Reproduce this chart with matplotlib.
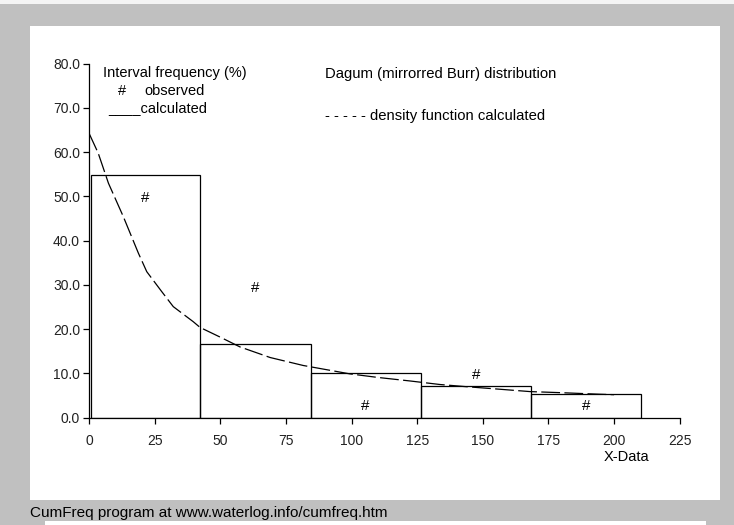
import matplotlib
matplotlib.use("Agg")
import matplotlib.pyplot as plt
from matplotlib.patches import Rectangle
import numpy as np

# ---- data ----
bin_edges = [0.8, 42.3, 84.4, 126.3, 168.3, 210.3]
freq_calculated = [54.8, 16.6, 10.2, 7.2, 5.3]
freq_observed = [50.0, 29.7, 2.9, 10.0, 2.9]

dens_x = [0, 3.5, 7.4, 13.1, 18.8, 22.0, 27.7, 32.1, 39.7, 42.3, 50, 57.5, 69,
          81.6, 99.4, 110, 122.3, 133.7, 143.9, 155, 168, 180, 194.7, 200]
dens_y = [64.3, 59.8, 53.0, 45.4, 37.2, 33.0, 28.5, 25.1, 21.7, 20.4, 18.2, 16.0, 13.6,
          11.8, 9.9, 9.1, 8.3, 7.5, 7.0, 6.5, 5.9, 5.65, 5.3, 5.2]

x_ticks = [0, 25, 50, 75, 100, 125, 150, 175, 200, 225]
y_ticks = [0, 10, 20, 30, 40, 50, 60, 70, 80]

W, H = 734, 525
plt.rcParams['font.family'] = ['Liberation Sans', 'DejaVu Sans']

fig = plt.figure(figsize=(W / 100, H / 100), dpi=100)
fig.patch.set_facecolor('#c0c0c0')

def fx(px):
    return px / W

def fy(py):
    return 1 - py / H

# white panel and strips
fig.patches.append(Rectangle((fx(30), fy(500)), fx(720) - fx(30), fy(26) - fy(500),
                             transform=fig.transFigure, facecolor='white',
                             edgecolor='none', zorder=-5))
fig.patches.append(Rectangle((0, fy(4)), 1, fy(0) - fy(4),
                             transform=fig.transFigure, facecolor='#f4f4f4',
                             edgecolor='none', zorder=-5))
fig.patches.append(Rectangle((fx(45), 0), fx(706) - fx(45), fy(521),
                             transform=fig.transFigure, facecolor='white',
                             edgecolor='none', zorder=-5))

ax = fig.add_axes([fx(89), fy(417.7), fx(679.7) - fx(89), fy(63.7) - fy(417.7)])
ax.set_zorder(5)
ax.set_facecolor('none')

lefts = bin_edges[:-1]
widths = np.diff(bin_edges)
ax.bar(lefts, freq_calculated, width=widths, align='edge', facecolor='none',
       edgecolor='black', linewidth=0.9, zorder=2)

centers = [(a + b) / 2 for a, b in zip(bin_edges[:-1], bin_edges[1:])]
for cx, cy in zip(centers, freq_observed):
    ax.text(cx, cy, '#', ha='center', va='center_baseline', fontsize=11, zorder=3)

ax.plot(dens_x, dens_y, color='black', linewidth=0.9, linestyle=(0, (15, 3.5)), zorder=4)

ax.set_xlim(0, 225)
ax.set_ylim(0, 80)
ax.set_xticks(x_ticks)
ax.set_xticklabels([str(v) for v in x_ticks])
ax.set_yticks(y_ticks)
ax.set_yticklabels([f"{v:.1f}" for v in y_ticks])
for s in ['top', 'right']:
    ax.spines[s].set_visible(False)
for s in ['left', 'bottom']:
    ax.spines[s].set_linewidth(0.9)
ax.tick_params(direction='out', length=4, width=0.9, labelsize=10, labelcolor='#222222')
ax.tick_params(axis='y', pad=2.5)
ax.tick_params(axis='x', pad=8)

# annotations
fig.text(fx(103), fy(73), 'Interval frequency (%)', fontsize=10.5, va='center', ha='left')
fig.text(fx(121.7), fy(91), '#', fontsize=10.5, va='center', ha='center')
fig.text(fx(144), fy(91), 'observed', fontsize=10.5, va='center', ha='left')
fig.text(fx(108), fy(108), '____calculated', fontsize=10.5, va='center', ha='left')
fig.text(fx(325), fy(74), 'Dagum (mirrorred Burr) distribution', fontsize=10.7,
         va='center', ha='left')
fig.text(fx(325), fy(116), '- - - - - density function calculated', fontsize=10.7,
         va='center', ha='left')
fig.text(fx(626), fy(457), 'X-Data', fontsize=10.5, va='center', ha='center')
fig.text(fx(30), fy(513), 'CumFreq program at www.waterlog.info/cumfreq.htm',
         fontsize=11, va='center', ha='left')

fig.savefig('out.png', dpi=100, facecolor=fig.get_facecolor())
